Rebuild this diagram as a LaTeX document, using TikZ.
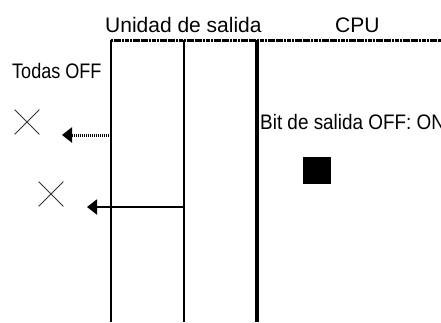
\documentclass[tikz,border=0pt]{standalone}
\usepackage{fontspec}
\setmainfont{Liberation Sans}
\usetikzlibrary{arrows.meta,positioning,shapes.misc}

\begin{document}
\begin{tikzpicture}[x=1bp, y=-1bp,
  lbl/.style={inner sep=0pt, anchor=base west, font=\fontsize{21bp}{25bp}\selectfont},
  xmark/.style={cross out, draw=black!80, line width=0.8bp, minimum width=24bp, minimum height=24bp, inner sep=0pt},
  outarrow/.style={-{Triangle[length=10bp,width=15bp]}}]
  \useasboundingbox (0,0) rectangle (441,322);
  \clip (0,0) rectangle (441,322);

  % Bus superior (punteado)
  \coordinate (tl) at (111,40);
  \coordinate (tr) at (441,40);
  \draw[line width=3bp, dash pattern=on 2.2bp off 0.5bp] (tl) -- (tr);

  % Lineas verticales de la unidad y de la CPU
  \foreach \n/\x/\w in {a/111/1.8,b/184/1.8,c/257/3.2} {
    \coordinate (\n top) at (\x,40);
    \coordinate (\n bot) at (\x,322);
    \draw[line width=\w bp] (\n top) -- (\n bot);
  }

  % Textos
  \node[lbl] (unidad) at (105,32) {Unidad de salida};
  \node[lbl] (cpu) at (335,32) {CPU};
  \node[lbl] (todas) at (12,78) {\scalebox{0.86}[1]{Todas OFF}};
  \node[lbl] (bit) at (260,129) {\scalebox{0.9}[1]{Bit de salida OFF: ON}};

  % Salidas cortadas
  \node[xmark] (x1) at (27,122) {};
  \node[xmark] (x2) at (51,194) {};

  % Flechas de salida
  \coordinate (s1) at (111,135); \coordinate (e1) at (62,135);
  \draw[outarrow, line width=3bp, dash pattern=on 1.4bp off 0.6bp] (s1) -- (e1);
  \coordinate (s2) at (184,207); \coordinate (e2) at (87,207);
  \draw[outarrow, line width=2bp] (s2) -- (e2);

  % Bit de salida
  \node[fill=black, minimum width=28bp, minimum height=27bp, inner sep=0pt] (bitsq) at (317,170.5) {};
\end{tikzpicture}
\end{document}
